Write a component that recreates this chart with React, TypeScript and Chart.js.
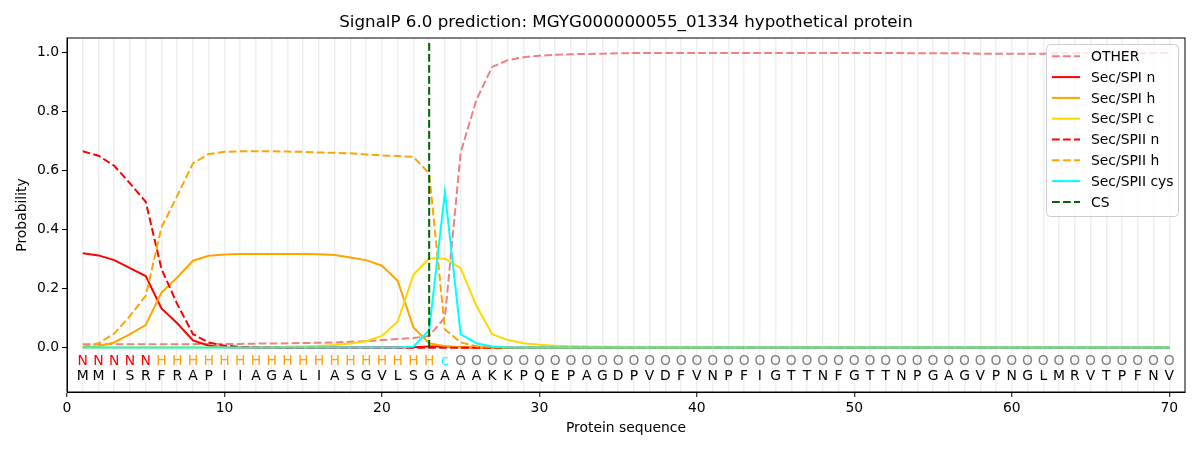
import React, { useEffect, useRef } from 'react';
import { Chart, registerables } from 'chart.js';

Chart.register(...registerables);

const FONT = '"DejaVu Sans", Verdana, sans-serif';

// residue sequence and per-residue region label (N / H / c / O)
const sequence = 'MMISRFRAPIIAGALIASGVLSGAAAKKPQEPAGDPVDFVNPFIGTTNFGTTNPGAGVPNGLMRVTPFNV'.split('');
const regionLabels = 'NNNNNHHHHHHHHHHHHHHHHHHcOOOOOOOOOOOOOOOOOOOOOOOOOOOOOOOOOOOOOOOOOOOOOO'.split('');
const positions = sequence.map((_, i) => i + 1);
const csPosition = 23;

const other = [
  0.012, 0.012, 0.012, 0.012, 0.012, 0.012, 0.012, 0.012, 0.013, 0.013,
  0.013, 0.014, 0.014, 0.015, 0.016, 0.017, 0.018, 0.020, 0.022, 0.026,
  0.030, 0.033, 0.040, 0.103, 0.662, 0.840, 0.952, 0.975, 0.985, 0.990,
  0.993, 0.995, 0.996, 0.997, 0.998, 0.999, 0.999, 0.999, 0.999, 0.999,
  0.999, 0.999, 0.999, 0.999, 0.999, 0.999, 0.999, 0.999, 0.999, 0.999,
  0.999, 0.999, 0.999, 0.998, 0.998, 0.998, 0.998, 0.997, 0.997, 0.997,
  0.997, 0.997, 0.998, 0.998, 0.998, 0.998, 0.998, 0.998, 0.999, 0.999,
];
const spiN = [
  0.320, 0.313, 0.297, 0.270, 0.243, 0.133, 0.083, 0.025, 0.007, 0.002,
  0.001, 0.001, 0.001, 0.001, 0.001, 0.001, 0.001, 0.001, 0.001, 0.001,
  0.001, 0.002, 0.004, 0.004, 0.002, 0.001, 0, 0, 0, 0,
  0, 0, 0, 0, 0, 0, 0, 0, 0, 0,
  0, 0, 0, 0, 0, 0, 0, 0, 0, 0,
  0, 0, 0, 0, 0, 0, 0, 0, 0, 0,
  0, 0, 0, 0, 0, 0, 0, 0, 0, 0,
];
const spiH = [
  0.001, 0.005, 0.018, 0.046, 0.077, 0.187, 0.238, 0.295, 0.312, 0.316,
  0.318, 0.318, 0.318, 0.318, 0.318, 0.317, 0.314, 0.306, 0.297, 0.278,
  0.227, 0.069, 0.015, 0.005, 0.002, 0.001, 0, 0, 0, 0,
  0, 0, 0, 0, 0, 0, 0, 0, 0, 0,
  0, 0, 0, 0, 0, 0, 0, 0, 0, 0,
  0, 0, 0, 0, 0, 0, 0, 0, 0, 0,
  0, 0, 0, 0, 0, 0, 0, 0, 0, 0,
];
const spiC = [
  0.001, 0.001, 0.001, 0.001, 0.001, 0.001, 0.001, 0.001, 0.001, 0.002,
  0.002, 0.002, 0.002, 0.003, 0.004, 0.006, 0.009, 0.014, 0.022, 0.040,
  0.089, 0.247, 0.303, 0.302, 0.270, 0.142, 0.046, 0.026, 0.015, 0.010,
  0.007, 0.005, 0.004, 0.003, 0.003, 0.002, 0.002, 0.002, 0.002, 0.002,
  0.001, 0.001, 0.001, 0.001, 0.001, 0.001, 0.001, 0.001, 0.001, 0.001,
  0.001, 0.001, 0.001, 0.001, 0.001, 0.001, 0.001, 0.001, 0.001, 0.001,
  0.001, 0.001, 0.001, 0.001, 0.001, 0.001, 0.001, 0.001, 0.001, 0.001,
];
const spiiN = [
  0.666, 0.651, 0.617, 0.557, 0.495, 0.267, 0.148, 0.046, 0.018, 0.007,
  0.003, 0.001, 0.001, 0, 0, 0, 0, 0, 0, 0,
  0, 0, 0, 0, 0, 0, 0, 0, 0, 0,
  0, 0, 0, 0, 0, 0, 0, 0, 0, 0,
  0, 0, 0, 0, 0, 0, 0, 0, 0, 0,
  0, 0, 0, 0, 0, 0, 0, 0, 0, 0,
  0, 0, 0, 0, 0, 0, 0, 0, 0, 0,
];
const spiiH = [
  0.003, 0.015, 0.048, 0.108, 0.176, 0.408, 0.515, 0.625, 0.657, 0.664,
  0.666, 0.666, 0.666, 0.665, 0.664, 0.662, 0.661, 0.659, 0.655, 0.652,
  0.650, 0.647, 0.591, 0.063, 0.018, 0.005, 0.002, 0.001, 0, 0,
  0, 0, 0, 0, 0, 0, 0, 0, 0, 0,
  0, 0, 0, 0, 0, 0, 0, 0, 0, 0,
  0, 0, 0, 0, 0, 0, 0, 0, 0, 0,
  0, 0, 0, 0, 0, 0, 0, 0, 0, 0,
];
const spiiCys = [
  0.001, 0.001, 0.001, 0.001, 0.001, 0.001, 0.001, 0.001, 0.001, 0.001,
  0.001, 0.001, 0.001, 0.001, 0.001, 0.001, 0.001, 0.001, 0.001, 0.001,
  0.001, 0.004, 0.060, 0.527, 0.046, 0.015, 0.004, 0.001, 0.001, 0.001,
  0.001, 0.001, 0.001, 0.001, 0.001, 0.001, 0.001, 0.001, 0.001, 0.001,
  0.001, 0.001, 0.001, 0.001, 0.001, 0.001, 0.001, 0.001, 0.001, 0.001,
  0.001, 0.001, 0.001, 0.001, 0.001, 0.001, 0.001, 0.001, 0.001, 0.001,
  0.001, 0.001, 0.001, 0.001, 0.001, 0.001, 0.001, 0.001, 0.001, 0.001,
];

const yTicks = [0, 0.2, 0.4, 0.6, 0.8, 1.0];
const xTickStep = 10;

const DASH = [7.7, 3.3];
const regionColors: Record<string, string> = { N: 'red', H: 'orange', c: 'cyan', O: 'gray' };

const series = [
  { label: 'OTHER', values: other, color: '#f08080', dash: DASH },
  { label: 'Sec/SPI n', values: spiN, color: '#ff0000', dash: [] },
  { label: 'Sec/SPI h', values: spiH, color: '#ffa500', dash: [] },
  { label: 'Sec/SPI c', values: spiC, color: '#ffd700', dash: [] },
  { label: 'Sec/SPII n', values: spiiN, color: '#ff0000', dash: DASH },
  { label: 'Sec/SPII h', values: spiiH, color: '#ffa500', dash: DASH },
  { label: 'Sec/SPII cys', values: spiiCys, color: '#00ffff', dash: [] },
];

const decorPlugin = {
  id: 'decor',
  afterDatasetsDraw(chart: any) {
    const { ctx, chartArea, scales } = chart;
    const x = scales.x;
    const y = scales.y;
    ctx.save();
    ctx.font = `13.9px ${FONT}`;
    ctx.textAlign = 'center';
    ctx.textBaseline = 'middle';
    regionLabels.forEach((l, i) => {
      ctx.fillStyle = regionColors[l];
      ctx.fillText(l, x.getPixelForValue(positions[i]), y.getPixelForValue(-0.047));
    });
    ctx.fillStyle = '#000';
    sequence.forEach((s, i) => {
      ctx.fillText(s, x.getPixelForValue(positions[i]), y.getPixelForValue(-0.097));
    });

    // axes frame
    ctx.strokeStyle = '#000';
    ctx.lineWidth = 1;
    ctx.strokeRect(chartArea.left, chartArea.top, chartArea.right - chartArea.left, chartArea.bottom - chartArea.top);

    // titles
    ctx.font = `16.7px ${FONT}`;
    ctx.fillText('SignalP 6.0 prediction: MGYG000000055_01334 hypothetical protein', (chartArea.left + chartArea.right) / 2, 23);
    ctx.font = `13.9px ${FONT}`;
    ctx.fillText('Protein sequence', (chartArea.left + chartArea.right) / 2, 428);
    ctx.save();
    ctx.translate(22, (chartArea.top + chartArea.bottom) / 2);
    ctx.rotate(-Math.PI / 2);
    ctx.fillText('Probability', 0, 0);
    ctx.restore();

    // legend
    const bx = 1046.5, by = 44.5, bw = 132, bh = 172, r = 4;
    ctx.beginPath();
    ctx.moveTo(bx + r, by);
    ctx.arcTo(bx + bw, by, bx + bw, by + bh, r);
    ctx.arcTo(bx + bw, by + bh, bx, by + bh, r);
    ctx.arcTo(bx, by + bh, bx, by, r);
    ctx.arcTo(bx, by, bx + bw, by, r);
    ctx.closePath();
    ctx.fillStyle = 'rgba(255,255,255,0.8)';
    ctx.fill();
    ctx.strokeStyle = '#cccccc';
    ctx.stroke();
    ctx.textAlign = 'left';
    chart.data.datasets.forEach((ds: any, i: number) => {
      const ry = 56.3 + i * 20.8;
      ctx.beginPath();
      ctx.setLineDash(ds.borderDash || []);
      ctx.strokeStyle = ds.borderColor;
      ctx.lineWidth = 2;
      ctx.moveTo(1052, ry);
      ctx.lineTo(1080, ry);
      ctx.stroke();
      ctx.setLineDash([]);
      ctx.fillStyle = '#000';
      ctx.fillText(ds.label, 1091, ry + 1);
    });
    ctx.restore();
  },
};

const App: React.FC = () => {
  const canvasRef = useRef<HTMLCanvasElement | null>(null);

  useEffect(() => {
    if (!canvasRef.current) return;
    const ctx = canvasRef.current.getContext('2d');
    if (!ctx) return;

    const datasets: any[] = series.map((s, i) => ({
      label: s.label,
      data: s.values.map((v, j) => ({ x: positions[j], y: v })),
      borderColor: s.color,
      borderDash: s.dash,
      borderWidth: 2,
      pointRadius: 0,
      tension: 0,
      order: 20 - i,
    }));
    datasets.push({
      label: 'CS',
      data: [
        { x: csPosition, y: 0 },
        { x: csPosition, y: 1.035 },
      ],
      borderColor: '#006400',
      borderDash: DASH,
      borderWidth: 2,
      pointRadius: 0,
      order: 1,
    });

    const chart = new Chart(ctx, {
      type: 'line',
      data: { datasets },
      options: {
        animation: false,
        responsive: true,
        maintainAspectRatio: false,
        layout: { padding: { top: 38, right: 15, left: 0, bottom: 0 } },
        font: { family: FONT },
        color: '#000',
        plugins: {
          legend: { display: false },
          title: { display: false },
          tooltip: { enabled: false },
        },
        scales: {
          x: {
            type: 'linear',
            min: 0,
            max: 71,
            afterBuildTicks: (scale: any) => {
              scale.ticks = Array.from({ length: 72 }, (_, i) => ({ value: i }));
            },
            afterFit: (scale: any) => {
              scale.height = 58;
            },
            ticks: {
              autoSkip: false,
              maxRotation: 0,
              minRotation: 0,
              padding: 3,
              color: '#000',
              font: { family: FONT, size: 13.9 },
              callback: (v: any) => (Number(v) % xTickStep === 0 && Number(v) <= 70 ? String(v) : ''),
            },
            grid: {
              color: (c: any) => (c.tick && c.tick.value >= 1 && c.tick.value <= 70 ? '#efefef' : 'rgba(0,0,0,0)'),
              lineWidth: 1.5,
              tickLength: 5,
              tickColor: (c: any) => (c.tick && c.tick.value % xTickStep === 0 && c.tick.value <= 70 ? '#000' : 'rgba(0,0,0,0)'),
              tickWidth: 1,
            },
            border: { display: true, color: '#000', width: 1 },
          },
          y: {
            type: 'linear',
            min: -0.15,
            max: 1.05,
            afterBuildTicks: (scale: any) => {
              scale.ticks = yTicks.map((v) => ({ value: v }));
            },
            afterFit: (scale: any) => {
              scale.width = 67;
            },
            ticks: {
              padding: 3,
              color: '#000',
              font: { family: FONT, size: 13.9 },
              callback: (v: any) => Number(v).toFixed(1),
            },
            grid: {
              drawOnChartArea: false,
              tickLength: 5,
              tickColor: '#000',
              tickWidth: 1,
            },
            border: { display: true, color: '#000', width: 1 },
          },
        },
      },
      plugins: [decorPlugin],
    });

    return () => {
      chart.destroy();
    };
  }, []);

  return (
    <div style={{ position: 'absolute', left: 0, top: 0, width: 1200, height: 450, background: '#fff' }}>
      <canvas ref={canvasRef} />
    </div>
  );
};

export default App;
